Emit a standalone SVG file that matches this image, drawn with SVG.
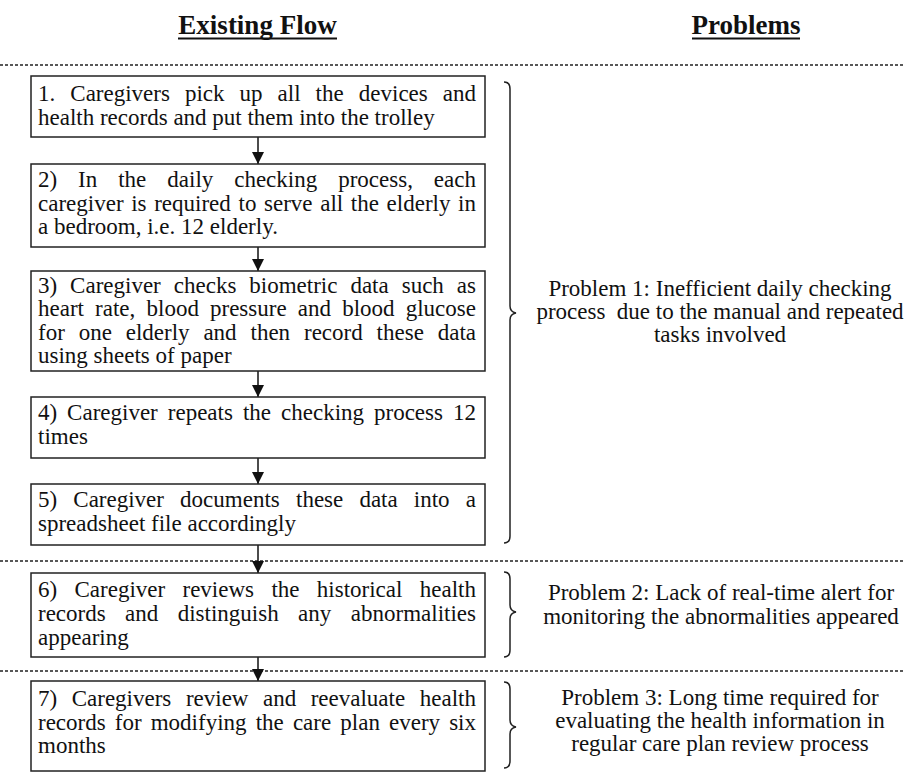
<svg xmlns="http://www.w3.org/2000/svg" width="905" height="774" viewBox="0 0 905 774">
  <style>
    .bg { fill: #ffffff; }
    .hdr { font-family: "Liberation Serif", "Times New Roman", serif; font-size: 27px; font-weight: bold; fill: #111; text-anchor: middle; }
    .ul { stroke: #111; stroke-width: 2; }
    .sep { stroke: #222; stroke-width: 1.3; stroke-dasharray: 3 2; fill: none; }
    .box { fill: #ffffff; stroke: #222; stroke-width: 1.5; }
    .txt { font-family: "Liberation Serif", "Times New Roman", serif; font-size: 23px; fill: #111; }
    .prob { font-family: "Liberation Serif", "Times New Roman", serif; font-size: 23px; fill: #111; text-anchor: middle; white-space: pre; }
    .edge { stroke: #111; stroke-width: 1.5; fill: none; }
    .brace { stroke: #222; stroke-width: 1.5; fill: none; }
  </style>
  <defs>
    <marker id="head" markerUnits="userSpaceOnUse" markerWidth="13" markerHeight="13" refX="12" refY="6.5" orient="auto">
      <path d="M0,0.5 L12,6.5 L0,12.5 Z" fill="#111"/>
    </marker>
  </defs>

  <rect class="bg" x="0" y="0" width="905" height="774"/>

  <!-- column headings -->
  <g id="headings">
    <text class="hdr" x="257.5" y="34">Existing Flow</text>
    <line class="ul" x1="178" y1="38.5" x2="337" y2="38.5"/>
    <text class="hdr" x="746" y="34">Problems</text>
    <line class="ul" x1="692" y1="38.5" x2="800" y2="38.5"/>
  </g>

  <!-- section separators -->
  <g id="separators">
    <line class="sep" x1="0" y1="65" x2="905" y2="65"/>
    <line class="sep" x1="0" y1="561" x2="905" y2="561"/>
    <line class="sep" x1="0" y1="671" x2="905" y2="671"/>
  </g>

  <!-- flow connectors -->
  <g id="connectors">
    <line class="edge" x1="258" y1="137" x2="258" y2="164" marker-end="url(#head)"/>
    <line class="edge" x1="258" y1="247" x2="258" y2="271" marker-end="url(#head)"/>
    <line class="edge" x1="258" y1="371" x2="258" y2="397" marker-end="url(#head)"/>
    <line class="edge" x1="258" y1="458" x2="258" y2="484" marker-end="url(#head)"/>
    <line class="edge" x1="258" y1="545" x2="258" y2="573" marker-end="url(#head)"/>
    <line class="edge" x1="258" y1="657" x2="258" y2="681" marker-end="url(#head)"/>
  </g>

  <!-- step 1 -->
  <g id="step1">
    <rect class="box" x="31" y="76" width="454" height="61"/>
    <text class="txt" y="101"><tspan x="38">1.</tspan><tspan x="70.3">Caregivers</tspan><tspan x="184.9">pick</tspan><tspan x="239.6">up</tspan><tspan x="277.6">all</tspan><tspan x="315.6">the</tspan><tspan x="358.8">devices</tspan><tspan x="476" text-anchor="end">and</tspan></text>
    <text class="txt" x="38" y="125">health records and put them into the trolley</text>
  </g>

  <!-- step 2 -->
  <g id="step2">
    <rect class="box" x="31" y="164" width="454" height="83"/>
    <text class="txt" y="187"><tspan x="38">2)</tspan><tspan x="78.1">In</tspan><tspan x="118.2">the</tspan><tspan x="167.3">daily</tspan><tspan x="234.2">checking</tspan><tspan x="338.2">process,</tspan><tspan x="476" text-anchor="end">each</tspan></text>
    <text class="txt" y="211"><tspan x="38">caregiver</tspan><tspan x="131.2">is</tspan><tspan x="154.2">required</tspan><tspan x="238.5">to</tspan><tspan x="264">serve</tspan><tspan x="320.2">all</tspan><tspan x="350.8">the</tspan><tspan x="386.6">elderly</tspan><tspan x="476" text-anchor="end">in</tspan></text>
    <text class="txt" x="38" y="234">a bedroom, i.e. 12 elderly.</text>
  </g>

  <!-- step 3 -->
  <g id="step3">
    <rect class="box" x="31" y="271" width="454" height="100"/>
    <text class="txt" y="293"><tspan x="38">3)</tspan><tspan x="70.1">Caregiver</tspan><tspan x="173.8">checks</tspan><tspan x="249.3">biometric</tspan><tspan x="350.4">data</tspan><tspan x="401.7">such</tspan><tspan x="476" text-anchor="end">as</tspan></text>
    <text class="txt" y="316"><tspan x="38">heart</tspan><tspan x="95.1">rate,</tspan><tspan x="146.5">blood</tspan><tspan x="210">pressure</tspan><tspan x="297.8">and</tspan><tspan x="342.2">blood</tspan><tspan x="476" text-anchor="end">glucose</tspan></text>
    <text class="txt" y="340"><tspan x="38">for</tspan><tspan x="78.7">one</tspan><tspan x="125.7">elderly</tspan><tspan x="203.4">and</tspan><tspan x="250.5">then</tspan><tspan x="304">record</tspan><tspan x="376.6">these</tspan><tspan x="476" text-anchor="end">data</tspan></text>
    <text class="txt" x="38" y="363">using sheets of paper</text>
  </g>

  <!-- step 4 -->
  <g id="step4">
    <rect class="box" x="31" y="397" width="454" height="61"/>
    <text class="txt" y="420"><tspan x="38">4)</tspan><tspan x="67.1">Caregiver</tspan><tspan x="167.8">repeats</tspan><tspan x="242.9">the</tspan><tspan x="281">checking</tspan><tspan x="374">process</tspan><tspan x="476" text-anchor="end">12</tspan></text>
    <text class="txt" x="38" y="444">times</text>
  </g>

  <!-- step 5 -->
  <g id="step5">
    <rect class="box" x="31" y="484" width="454" height="61"/>
    <text class="txt" y="507"><tspan x="38">5)</tspan><tspan x="73.3">Caregiver</tspan><tspan x="180.1">documents</tspan><tspan x="296">these</tspan><tspan x="359.4">data</tspan><tspan x="413.8">into</tspan><tspan x="476" text-anchor="end">a</tspan></text>
    <text class="txt" x="38" y="531">spreadsheet file accordingly</text>
  </g>

  <!-- step 6 -->
  <g id="step6">
    <rect class="box" x="31" y="573" width="454" height="84"/>
    <text class="txt" y="597"><tspan x="38">6)</tspan><tspan x="74.5">Caregiver</tspan><tspan x="182.5">reviews</tspan><tspan x="271.4">the</tspan><tspan x="316.8">historical</tspan><tspan x="476" text-anchor="end">health</tspan></text>
    <text class="txt" y="621"><tspan x="38">records</tspan><tspan x="125.1">and</tspan><tspan x="177.7">distinguish</tspan><tspan x="298.1">any</tspan><tspan x="476" text-anchor="end">abnormalities</tspan></text>
    <text class="txt" x="38" y="645">appearing</text>
  </g>

  <!-- step 7 -->
  <g id="step7">
    <rect class="box" x="31" y="681" width="454" height="90"/>
    <text class="txt" y="706"><tspan x="38">7)</tspan><tspan x="71.7">Caregivers</tspan><tspan x="185.9">review</tspan><tspan x="263">and</tspan><tspan x="310.7">reevaluate</tspan><tspan x="476" text-anchor="end">health</tspan></text>
    <text class="txt" y="730"><tspan x="38">records</tspan><tspan x="114.8">for</tspan><tspan x="150.7">modifying</tspan><tspan x="255.7">the</tspan><tspan x="292.9">care</tspan><tspan x="340.3">plan</tspan><tspan x="389">every</tspan><tspan x="476" text-anchor="end">six</tspan></text>
    <text class="txt" x="38" y="753">months</text>
  </g>

  <!-- problem 1 with its brace -->
  <g id="problem1">
    <path class="brace" d="M504,82 Q510,82 510,89 L510,306 Q510,312 516,313 Q510,314 510,320 L510,536 Q510,543 504,543"/>
    <text class="prob" x="720" y="296">Problem 1: Inefficient daily checking</text>
    <text class="prob" x="720" y="319">process  due to the manual and repeated</text>
    <text class="prob" x="720" y="342">tasks involved</text>
  </g>

  <!-- problem 2 with its brace -->
  <g id="problem2">
    <path class="brace" d="M504,572 Q510,572 510,579 L510,605 Q510,611 516,612 Q510,613 510,619 L510,650 Q510,657 504,657"/>
    <text class="prob" x="721" y="600">Problem 2: Lack of real-time alert for</text>
    <text class="prob" x="721" y="624">monitoring the abnormalities appeared</text>
  </g>

  <!-- problem 3 with its brace -->
  <g id="problem3">
    <path class="brace" d="M504,682 Q510,682 510,689 L510,720 Q510,726 516,727 Q510,728 510,734 L510,761 Q510,768 504,768"/>
    <text class="prob" x="720" y="705">Problem 3: Long time required for</text>
    <text class="prob" x="720" y="728">evaluating the health information in</text>
    <text class="prob" x="720" y="751">regular care plan review process</text>
  </g>
</svg>
